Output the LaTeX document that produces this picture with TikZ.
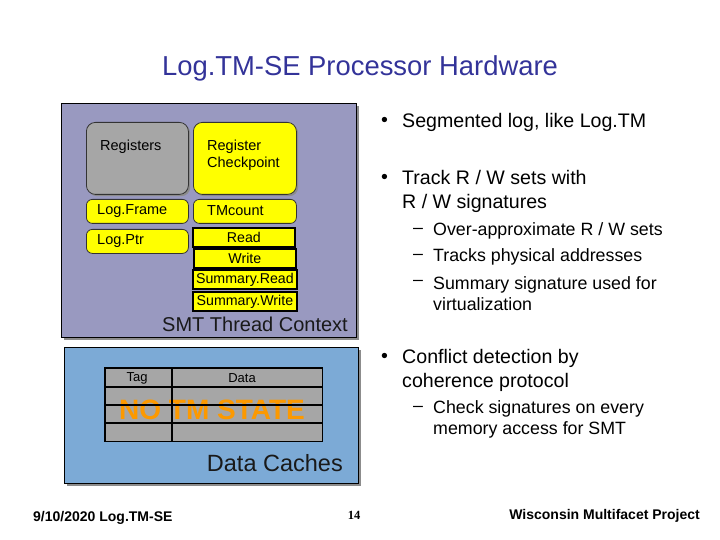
\documentclass[tikz,border=0pt]{standalone}
\usepackage{fontspec}
\setmainfont{Liberation Sans}
\newfontfamily\timesf{Liberation Serif}
\definecolor{titleblue}{RGB}{51,51,153}
\definecolor{smtfill}{RGB}{153,153,192}
\definecolor{cachefill}{RGB}{124,170,214}
\definecolor{regyellow}{RGB}{255,255,0}
\definecolor{reggray}{RGB}{166,166,166}
\definecolor{tblgray}{RGB}{166,166,166}
\definecolor{notm}{RGB}{252,153,0}
\definecolor{shadowgray}{RGB}{140,140,140}
\tikzset{
  panel/.style={draw=black, line width=0.8pt, anchor=north west, inner sep=0pt},
  shadowbox/.style={fill=shadowgray, draw=none, anchor=north west, inner sep=0pt},
  rbox/.style={draw=black!80, line width=0.8pt, rounded corners=9pt, anchor=north west, inner sep=0pt},
  sbox/.style={draw=black!80, line width=0.8pt, rounded corners=6pt, anchor=north west, inner sep=0pt, fill=regyellow},
  sigbox/.style={draw=black, line width=1.8pt, anchor=north west, inner sep=0pt, fill=regyellow,
     font=\fontsize{14.2}{15}\selectfont},
  boxtxt/.style={anchor=west, inner sep=0pt, font=\fontsize{14.5}{17}\selectfont, align=left},
  bigtxt/.style={inner sep=0pt, font=\fontsize{20}{24}\selectfont, text=black!90},
  bul/.style={anchor=west, inner sep=0pt, font=\fontsize{19.6}{24}\selectfont, align=left},
  subbul/.style={anchor=west, inner sep=0pt, font=\fontsize{17.8}{21}\selectfont, align=left},
  grid/.style={line width=1.8pt, black},
  foot/.style={inner sep=0pt, font=\bfseries\fontsize{14}{15}\selectfont}
}
\begin{document}
\begin{tikzpicture}[x=1pt,y=-1pt]
\useasboundingbox (0,0) rectangle (720,540);
% title
\node[inner sep=0pt, text=titleblue, font=\fontsize{27.4}{30}\selectfont] (title) at (360,68) {Log.TM-SE Processor Hardware};

% SMT thread context panel
\node[shadowbox, minimum width=295pt, minimum height=234pt] (smtsh) at (64,106) {};
\node[panel, fill=smtfill, minimum width=295pt, minimum height=234pt] (smt) at (61,103) {};

\node[shadowbox, minimum width=102pt, minimum height=72pt, rounded corners=9pt] (regsh) at (88,124) {};
\node[rbox, fill=reggray, minimum width=102pt, minimum height=72pt] (regs) at (86,122) {};
\node[shadowbox, minimum width=103pt, minimum height=72pt, rounded corners=9pt] (ckpsh) at (195,124) {};
\node[rbox, fill=regyellow, minimum width=103pt, minimum height=72pt] (ckp) at (193,122) {};
\node[boxtxt] (regsT) at (100,147) {Registers};
\node[boxtxt] (ckpT) at (207,155) {Register\\Checkpoint};

\node[sbox, minimum width=102pt, minimum height=24pt] (lframe) at (86,199) {};
\node[sbox, minimum width=103pt, minimum height=24pt] (tmc) at (193,199) {};
\node[sbox, minimum width=102pt, minimum height=24pt] (lptr) at (86,229) {};
\node[boxtxt] (lframeT) at (97,211) {Log.Frame};
\node[boxtxt] (tmcT) at (207,211) {TMcount};
\node[boxtxt] (lptrT) at (97,241) {Log.Ptr};

\node[sigbox, minimum width=102pt, minimum height=19pt] (rd) at (192,227) {Read};
\node[sigbox, minimum width=102pt, minimum height=19pt] (wr) at (193,248) {Write};
\node[sigbox, minimum width=104pt, minimum height=19pt] (srd) at (192,269) {Summary.Read};
\node[sigbox, minimum width=104pt, minimum height=19pt] (swr) at (192,291) {Summary.Write};

\node[bigtxt, anchor=east] (smtT) at (348,324) {SMT Thread Context};

% Data caches panel
\node[shadowbox, minimum width=294pt, minimum height=136pt] (dcsh) at (67,350) {};
\node[panel, fill=cachefill, minimum width=294pt, minimum height=136pt] (dc) at (64,347) {};

\node[anchor=north west, inner sep=0pt, fill=tblgray, minimum width=217pt, minimum height=73pt] (tbl) at (105,368) {};
\node[inner sep=0pt, text=notm, font=\bfseries\fontsize{28}{30}\selectfont] (notmT) at (212,410) {NO TM STATE};
\draw[grid] (tbl.north west) rectangle (tbl.south east);
\coordinate (c1) at (105,387); \coordinate (c1e) at (322,387);
\coordinate (c2) at (105,405); \coordinate (c2e) at (322,405);
\coordinate (c3) at (105,423); \coordinate (c3e) at (322,423);
\coordinate (v1) at (172,368); \coordinate (v1e) at (172,441);
\draw[grid] (c1) -- (c1e) (c2) -- (c2e) (c3) -- (c3e) (v1) -- (v1e);
\node[inner sep=0pt, font=\fontsize{13}{14}\selectfont] (tagT) at (137,378) {Tag};
\node[inner sep=0pt, font=\fontsize{13}{14}\selectfont] (dataT) at (242,378) {Data};

\node[bigtxt, anchor=east, font=\fontsize{23.5}{26}\selectfont] (dcT) at (343,463) {Data Caches};

% bullets
\node[bul] (b1d) at (381,122) {•};
\node[bul] (b1) at (402,122) {Segmented log, like Log.TM};
\node[bul] (b2d) at (381,179) {•};
\node[bul] (b2) at (402,191) {Track R / W sets with\\R / W signatures};
\node[subbul] (s1d) at (413,231) {–};
\node[subbul] (s1) at (433,231) {Over-approximate R / W sets};
\node[subbul] (s2d) at (413,257) {–};
\node[subbul] (s2) at (433,257) {Tracks physical addresses};
\node[subbul] (s3d) at (413,283) {–};
\node[subbul] (s3) at (433,293.5) {Summary signature used for\\virtualization};
\node[bul] (b3d) at (381,358) {•};
\node[bul] (b3) at (402,370) {Conflict detection by\\coherence protocol};
\node[subbul] (s4d) at (413,409) {–};
\node[subbul] (s4) at (433,419.5) {Check signatures on every\\memory access for SMT};

% footer
\node[foot, anchor=west] (fl) at (33,518) {9/10/2020 Log.TM-SE};
\node[inner sep=0pt, font=\timesf\bfseries\fontsize{12.5}{14}\selectfont] (fc) at (354,515) {14};
\node[foot, anchor=east] (fr) at (700,516) {Wisconsin Multifacet Project};
\end{tikzpicture}
\end{document}
